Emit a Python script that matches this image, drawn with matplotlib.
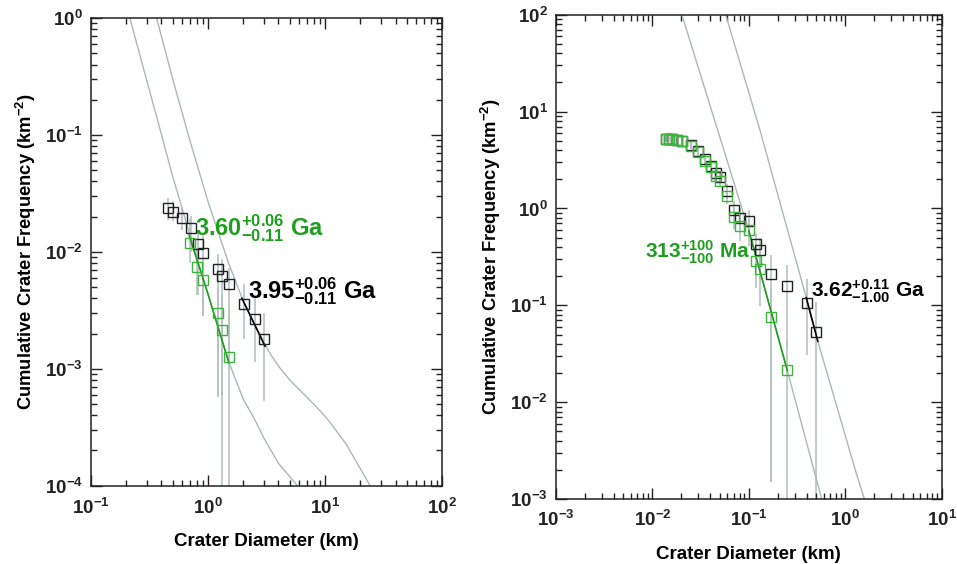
import numpy as np
import matplotlib.pyplot as plt
from matplotlib.ticker import LogLocator, FuncFormatter, NullFormatter

plt.rcParams['font.family'] = ['Liberation Sans', 'DejaVu Sans']
plt.rcParams['font.weight'] = 'bold'
plt.rcParams['axes.labelweight'] = 'bold'
plt.rcParams['mathtext.fontset'] = 'custom'
plt.rcParams['mathtext.rm'] = 'Liberation Sans:bold'
plt.rcParams['mathtext.it'] = 'Liberation Sans:bold'
plt.rcParams['mathtext.bf'] = 'Liberation Sans:bold'
plt.rcParams['mathtext.default'] = 'rm'

# ---- left panel data (diameter km, cumulative frequency km^-2)
L_black_d = [0.458, 0.506, 0.604, 0.711, 0.822, 0.912, 1.21, 1.31, 1.51, 2.02, 2.54, 3.03]
L_black_n = [0.0239, 0.0221, 0.0196, 0.0160, 0.0116, 0.0097, 0.00706, 0.00622, 0.00528, 0.00356, 0.00264, 0.00178]
L_black_hi = [0.029, 0.027, 0.0235, 0.0204, 0.0152, 0.0137, 0.0096, 0.0087, 0.0073, 0.0053, 0.0040, 0.0030]
L_black_lo = [0.0189, 0.0183, 0.0153, 0.0100, 0.0043, 0.0028, 0.00057, 0.00059, 0.0012, 0.0018, 0.00115, 0.00053]

L_green_d = [0.706, 0.805, 0.906, 1.21, 1.32, 1.51]
L_green_n = [0.0119, 0.00748, 0.00571, 0.00302, 0.00216, 0.00126]
L_green_hi = [0.019, 0.0107, 0.0084, 0.0049, 0.0043, 0.0032]
L_green_lo = [0.0081, 0.0043, 0.0028, 0.00059, 1e-6, 1e-6]

L_iso_young_d = [0.215, 0.30, 0.40, 0.50, 0.70, 1.0, 1.5, 2.0, 2.5, 3.0, 4.0, 5.8]
L_iso_young_n = [1.0, 0.292, 0.101, 0.044, 0.014, 0.00435, 0.00115, 0.00055, 0.00037, 0.000255, 0.000155, 0.0001]
L_iso_old_d = [0.364, 0.50, 0.70, 1.0, 1.5, 2.0, 2.5, 3.0, 3.5, 4.1, 5.0, 5.7, 7.0, 9.0,
               11.0, 12.6, 15.0, 18.0, 21.0, 24.6]
L_iso_old_n = [1.0, 0.30, 0.090, 0.027, 0.0080, 0.0038, 0.0024, 0.00168, 0.00128, 0.00102, 0.0008, 0.0007,
               0.00057, 0.00044, 0.00035, 0.00029, 0.00023, 0.000168, 0.000128, 0.0000975]

L_fit_green_d = [0.69, 1.0, 1.51]
L_fit_green_n = [0.0138, 0.00435, 0.00112]
L_fit_black_d = [1.95, 3.07]
L_fit_black_n = [0.0040, 0.00156]

# ---- right panel data
R_black_d = [0.0138, 0.0148, 0.0159, 0.0179, 0.0202, 0.0250, 0.0299, 0.0351, 0.0401, 0.0455, 0.0501,
             0.0596, 0.0698, 0.0811, 0.1004, 0.119, 0.130, 0.171, 0.251, 0.401, 0.500]
R_black_n = [5.24, 5.24, 5.20, 5.11, 5.02, 4.53, 3.88, 3.22, 2.76, 2.33, 2.10,
             1.52, 0.964, 0.80, 0.746, 0.429, 0.377, 0.211, 0.157, 0.105, 0.0532]
R_black_hi = [5.6, 5.6, 5.55, 5.45, 5.4, 4.9, 4.2, 3.55, 3.05, 2.6, 2.35,
              1.8, 1.2, 1.02, 0.97, 0.55, 0.50, 0.33, 0.26, 0.186, 0.108]
R_black_lo = [4.9, 4.9, 4.85, 4.75, 4.65, 4.15, 3.55, 2.9, 2.45, 2.05, 1.85,
              1.25, 0.73, 0.58, 0.52, 0.22, 0.18, 0.0015, 0.036, 0.031, 1e-6]

R_green_d = [0.0138, 0.0148, 0.0159, 0.0179, 0.0202, 0.0250, 0.0299, 0.0351, 0.0401, 0.0455, 0.0501,
             0.0596, 0.0698, 0.0811, 0.1004, 0.119, 0.130, 0.171, 0.251]
R_green_n = [5.15, 5.15, 5.15, 5.07, 4.98, 4.46, 3.78, 3.11, 2.69, 2.17, 1.91,
             1.33, 0.813, 0.656, 0.603, 0.286, 0.236, 0.075, 0.0217]
R_green_hi = [5.5, 5.5, 5.5, 5.4, 5.3, 4.8, 4.1, 3.4, 2.95, 2.45, 2.15,
              1.55, 1.02, 0.85, 0.8, 0.43, 0.37, 0.15, 0.043]
R_green_lo = [4.8, 4.8, 4.8, 4.7, 4.6, 4.1, 3.45, 2.8, 2.4, 1.9, 1.65,
              1.1, 0.61, 0.46, 0.41, 0.15, 0.098, 0.0015, 1e-6]

R_iso_young_d = [0.0202, 0.1, 0.251, 0.57]
R_iso_young_n = [100, 0.589, 0.0211, 0.001]
R_iso_old_d = [0.0575, 0.13, 0.394, 0.519, 1.29, 1.58]
R_iso_old_n = [100, 6.5, 0.12, 0.0426, 0.0019, 0.001]

R_fit_green_d = [0.1, 0.251]
R_fit_green_n = [0.589, 0.0211]
R_fit_black_d = [0.394, 0.519]
R_fit_black_n = [0.12, 0.0426]

GREEN = '#1e9e1e'
GREEN_PT = '#3cb43c'
GRAY = '#a9b9b6'
ERR = '#b5c2c2'


def setup_axes(ax, xlim, ylim, xpad):
    ax.set_xscale('log')
    ax.set_yscale('log')
    ax.set_xlim(*xlim)
    ax.set_ylim(*ylim)
    for a in (ax.xaxis, ax.yaxis):
        a.set_major_locator(LogLocator(base=10, numticks=20))
        a.set_minor_locator(LogLocator(base=10, subs=np.arange(2, 10), numticks=20))
        a.set_minor_formatter(NullFormatter())
        a.set_major_formatter(FuncFormatter(lambda v, p: r'$10^{%d}$' % round(np.log10(v))))
    ax.tick_params(which='both', direction='in', top=True, right=True, width=1, colors='#222222')
    ax.tick_params(which='major', length=8, labelsize=13.5, pad=6)
    ax.tick_params(axis='x', which='major', pad=xpad)
    ax.tick_params(which='minor', length=4)
    for s in ax.spines.values():
        s.set_linewidth(1.1)
        s.set_color('#222222')
    ax.set_xlabel('Crater Diameter (km)', fontsize=13.5, labelpad=11)
    ax.set_ylabel(r'Cumulative Crater Frequency (km$^{-2}$)', fontsize=13.2, labelpad=5)


def draw_panel(ax, bd, bn, blo, bhi, gd, gn, glo, ghi, iso1, iso2, fitg, fitb):
    ax.vlines(bd, blo, bhi, color=ERR, lw=1.2, zorder=1)
    ax.vlines(gd, glo, ghi, color=ERR, lw=1.2, zorder=1)
    ax.plot(iso1[0], iso1[1], color=GRAY, lw=1.0, zorder=2)
    ax.plot(iso2[0], iso2[1], color=GRAY, lw=1.0, zorder=2)
    ax.plot(fitg[0], fitg[1], color=GREEN, lw=1.2, zorder=3)
    ax.plot(fitb[0], fitb[1], color='black', lw=1.2, zorder=3)
    ax.plot(bd, bn, 's', ms=7, mfc='none', mec='#222222', mew=1.0, zorder=4)
    ax.plot(gd, gn, 's', ms=7, mfc='none', mec=GREEN_PT, mew=1.0, zorder=5)


fig = plt.figure(figsize=(9.57, 5.64), dpi=100)
ax1 = fig.add_axes([0.095, 0.139, 0.367, 0.829])
ax2 = fig.add_axes([0.581, 0.115, 0.403, 0.859])

setup_axes(ax1, (0.1, 100), (1e-4, 1), 9)
draw_panel(ax1, L_black_d, L_black_n, L_black_lo, L_black_hi,
           L_green_d, L_green_n, L_green_lo, L_green_hi,
           (L_iso_young_d, L_iso_young_n), (L_iso_old_d, L_iso_old_n),
           (L_fit_green_d, L_fit_green_n), (L_fit_black_d, L_fit_black_n))
ax1.text(0.296, 0.551, r'$3.60^{+0.06}_{-0.11}$ Ga', transform=ax1.transAxes,
         color=GREEN, fontsize=17, va='center', ha='left')
ax1.text(0.447, 0.415, r'$3.95^{+0.06}_{-0.11}$ Ga', transform=ax1.transAxes,
         color='black', fontsize=17, va='center', ha='left')

setup_axes(ax2, (1e-3, 10), (1e-3, 100), 8)
draw_panel(ax2, R_black_d, R_black_n, R_black_lo, R_black_hi,
           R_green_d, R_green_n, R_green_lo, R_green_hi,
           (R_iso_young_d, R_iso_young_n), (R_iso_old_d, R_iso_old_n),
           (R_fit_green_d, R_fit_green_n), (R_fit_black_d, R_fit_black_n))
ax2.text(0.232, 0.510, r'$313^{+100}_{-100}$ Ma', transform=ax2.transAxes,
         color=GREEN, fontsize=15, va='center', ha='left')
ax2.text(0.662, 0.429, r'$3.62^{+0.11}_{-1.00}$ Ga', transform=ax2.transAxes,
         color='black', fontsize=15, va='center', ha='left')

fig.savefig('out.png', dpi=100)
